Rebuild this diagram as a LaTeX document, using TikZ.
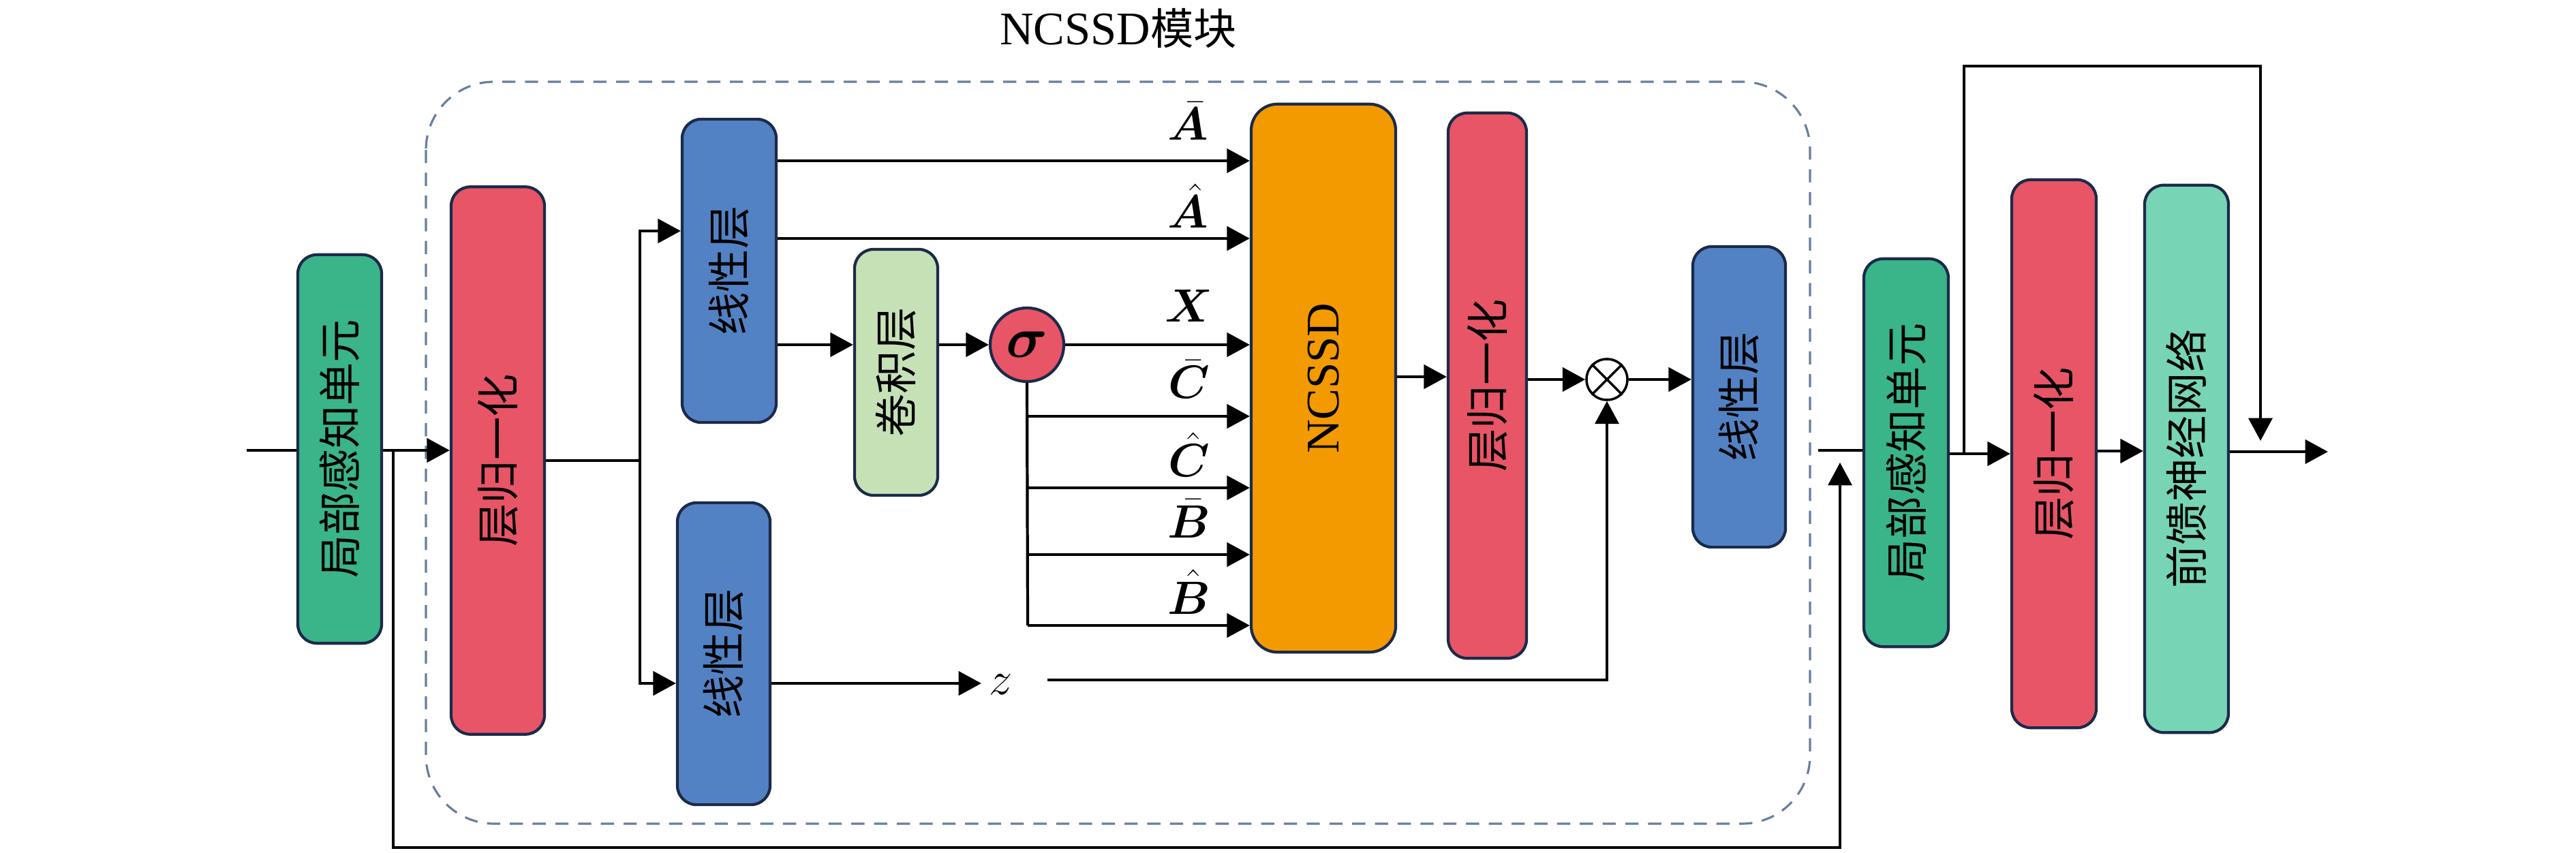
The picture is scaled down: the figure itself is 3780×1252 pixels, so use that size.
\RequirePackage{fix-cm}
\documentclass[tikz,border=0pt]{standalone}
\usepackage{amsmath,bm,graphicx}
\usepackage{fontspec}
\newfontfamily\cjk{Noto Sans CJK SC}
\newfontfamily\tnr{Liberation Serif}
\usetikzlibrary{arrows.meta,backgrounds}
\definecolor{cgreen}{RGB}{58,180,137}
\definecolor{cred}{RGB}{232,85,102}
\definecolor{cblue}{RGB}{82,130,196}
\definecolor{cconv}{RGB}{198,225,182}
\definecolor{corange}{RGB}{243,154,0}
\definecolor{cmint}{RGB}{119,212,181}
\definecolor{cborder}{RGB}{28,42,74}
\definecolor{cdash}{RGB}{104,126,158}
\begin{document}
\begin{tikzpicture}[x=0.01cm,y=-0.01cm,
  blk/.style={draw=cborder, line width=1.2pt, rounded corners=8pt, inner sep=0pt,
    font=\cjk\fontsize{18}{20}\selectfont},
  lbl/.style={inner sep=0pt, font=\fontsize{19.5}{22}\selectfont},
  arr/.style={line width=1.2pt, -{Triangle[length=9.5pt,width=10pt]}},
  ln/.style={line width=1.2pt},
  thinln/.style={line width=0.9pt},
  thinarr/.style={line width=0.9pt, -{Triangle[length=9.5pt,width=10pt]}}
]
% boxes
\node[blk, fill=cgreen, minimum width=1.23cm, minimum height=5.70cm] (lpu1) at (498.5,659) {\rotatebox{90}{局部感知单元}};
\node[blk, fill=cred, minimum width=1.37cm, minimum height=8.03cm] (ln1) at (730.5,676) {\rotatebox{90}{层归一化}};
\node[blk, fill=cblue, minimum width=1.38cm, minimum height=4.45cm] (lin1) at (1070,397.5) {\rotatebox{90}{线性层}};
\node[blk, fill=cblue, minimum width=1.36cm, minimum height=4.43cm] (lin2) at (1062,959.5) {\rotatebox{90}{线性层}};
\node[blk, fill=cconv, minimum width=1.22cm, minimum height=3.61cm] (conv) at (1315,546.5) {\rotatebox{90}{卷积层}};
\node[circle, draw=cborder, line width=1.2pt, fill=cred, minimum size=1.08cm, inner sep=0pt,
  font=\fontsize{24}{26}\selectfont] (sig) at (1507,506) {$\bm{\sigma}$};
\node[blk, fill=corange, rounded corners=11pt, minimum width=2.12cm, minimum height=8.04cm,
  font=\tnr\fontsize{19.5}{22}\selectfont] (ncssd) at (1942,555) {\rotatebox{90}{NCSSD}};
\node[blk, fill=cred, minimum width=1.15cm, minimum height=8.00cm] (ln2) at (2182.5,566) {\rotatebox{90}{层归一化}};
\node[circle, draw=black, line width=1pt, fill=white, minimum size=0.60cm, inner sep=0pt] (ot) at (2358,557) {};
\draw[line width=1pt] (ot.north west) -- (ot.south east) (ot.north east) -- (ot.south west);
\node[blk, fill=cblue, minimum width=1.36cm, minimum height=4.41cm] (lin3) at (2552,582.5) {\rotatebox{90}{线性层}};
\node[blk, fill=cgreen, minimum width=1.24cm, minimum height=5.69cm] (lpu2) at (2797,664.5) {\rotatebox{90}{局部感知单元}};
\node[blk, fill=cred, minimum width=1.24cm, minimum height=8.04cm] (ln3) at (3014,666) {\rotatebox{90}{层归一化}};
\node[blk, fill=cmint, minimum width=1.23cm, minimum height=8.03cm] (ffn) at (3208.5,673.5) {\rotatebox{90}{前馈神经网络}};
% title and labels
\node[inner sep=0pt, font=\tnr\fontsize{19.5}{22}\selectfont] (title) at (1641,42) {NCSSD{\cjk\fontsize{18}{20}\selectfont 模块}};
\node[lbl, anchor=base] (lA1) at (1743,206) {$\bm{\bar{A}}$};
\node[lbl, anchor=base] (lA2) at (1743,335) {$\bm{\hat{A}}$};
\node[lbl, anchor=base] (lX) at (1745,473) {$\bm{X}$};
\node[lbl, anchor=base] (lC1) at (1745,585) {$\bm{\bar{C}}$};
\node[lbl, anchor=base] (lC2) at (1745,700) {$\bm{\hat{C}}$};
\node[lbl, anchor=base] (lB1) at (1745,789) {$\bm{\bar{B}}$};
\node[lbl, anchor=base] (lB2) at (1745,901) {$\bm{\hat{B}}$};
\node[lbl] (zlab) at (1469,1005) {$z$};
% coordinates
\coordinate (in) at (362,661);
\coordinate (s1) at (577,661);
\coordinate (s1e) at (2700,679);
\coordinate (br) at (939,676);
\coordinate (zin) at (1440,1003);
\coordinate (zout) at (1537,998);
\coordinate (sv) at (1508,918);
\coordinate (l2in) at (2668,661);
\coordinate (s2) at (2882,666);
\coordinate (s2e) at (3317,647);
\coordinate (out) at (3416,663);
\begin{pgfonlayer}{background}
\fill[white] (0,0) rectangle (3780,1252);
\draw[cdash, line width=0.9pt, dash pattern=on 5.5pt off 4pt, rounded corners=1cm] (625,120) rectangle (2656,1209);
\draw[arr] (in) -- (ln1.west |- in);
\draw[thinarr] (s1) -- (577,1244) -- (2700,1244) -- (s1e);
\draw[ln] (ln1.east |- br) -- (br);
\draw[arr] (br) -- (939,339) -- (lin1.west |- 0,339);
\draw[arr] (br) -- (939,1003) -- (lin2.west |- 0,1003);
\draw[arr] (lin1.east |- 0,236) -- (ncssd.west |- 0,236);
\draw[arr] (lin1.east |- 0,350) -- (ncssd.west |- 0,350);
\draw[arr] (lin1.east |- 0,506) -- (conv.west |- 0,506);
\draw[arr] (conv.east |- sig) -- (sig.west);
\draw[arr] (sig.east) -- (ncssd.west |- sig);
\draw[ln] (sig.south) -- (sv);
\foreach \yy in {611,716,814,918} \draw[arr] (1508,\yy) -- (ncssd.west |- 0,\yy);
\draw[arr] (ncssd.east |- 0,553) -- (ln2.west |- 0,553);
\draw[arr] (ln2.east |- ot) -- (ot.west);
\draw[arr] (ot.east) -- (lin3.west |- ot);
\draw[arr] (lin2.east |- zin) -- (zin);
\draw[thinarr] (zout) -- (ot |- zout) -- (ot.south);
\draw[ln] (l2in) -- (lpu2.west |- l2in);
\draw[arr] (lpu2.east |- s2) -- (ln3.west |- s2);
\draw[thinarr] (s2) -- (2882,97) -- (3317,97) -- (s2e);
\draw[arr] (ln3.east |- 0,662) -- (ffn.west |- 0,662);
\draw[arr] (ffn.east |- out) -- (out);
\end{pgfonlayer}
\end{tikzpicture}
\end{document}
